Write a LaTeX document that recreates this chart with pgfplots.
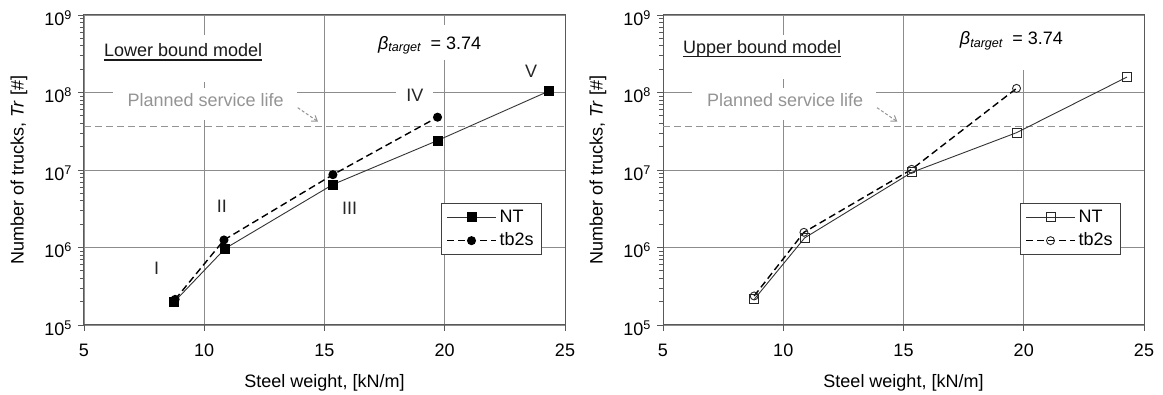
\documentclass[border=0pt]{standalone}
\usepackage{pgfplots}
\pgfplotsset{compat=1.18}
\usepackage{fontspec}
\setmainfont{Liberation Sans}
\usetikzlibrary{arrows.meta}
\definecolor{gridc}{gray}{0.55}
\definecolor{axc}{gray}{0.35}
\definecolor{psl}{gray}{0.58}
\newcommand{\bigf}{\fontsize{18}{21}\selectfont}
\pgfplotsset{
  myax/.style={
    width=481pt, height=310pt, scale only axis,
    xmin=5, xmax=25, ymin=1e5, ymax=1e9,
    xtick={5,10,15,20,25},
    ytick={1e5,1e6,1e7,1e8,1e9},
    yticklabels={10\textsuperscript{5},10\textsuperscript{6},10\textsuperscript{7},10\textsuperscript{8},10\textsuperscript{9}},
    /pgf/number format/assume math mode=true,
    grid=major, major grid style={gridc, line width=0.8pt},
    axis line style={axc, line width=1pt},
    tick style={axc, line width=0.8pt},
    tick align=outside, tick pos=left,
    major tick length=6pt, minor tick length=4pt,
    tick label style={font=\bigf},
    xticklabel style={yshift=-7pt},
    yticklabel style={yshift=-3pt},
    label style={font=\bigf},
    xlabel={Steel weight, [kN/m]},
    ylabel={Number of trucks, \textit{Tr} [\#]},
    xlabel style={at={(axis description cs:0.5,-0.187)}, anchor=center},
    ylabel style={at={(axis description cs:-0.135,0.5)}, anchor=center},
    legend cell align=left,
    legend style={at={(0.742,0.226)}, anchor=south west, draw=black!75, line width=0.8pt,
      fill=white, inner xsep=5pt, inner ysep=4pt, row sep=4pt, font=\bigf,
      nodes={inner xsep=3pt, inner ysep=2pt}},
    legend image code/.code={\draw[mark repeat=2,mark phase=2] plot coordinates {(0pt,0pt) (24.5pt,0pt) (49pt,0pt)};},
  }
}
\begin{document}
\bigf
\begin{tikzpicture}
\useasboundingbox (0,0) rectangle (1163pt,394pt);
% ---------------- left panel ----------------
\begin{axis}[ymode=log, myax, at={(84pt,69pt)}, anchor=south west]
  \fill[white] (rel axis cs:0.023,0.784) rectangle (rel axis cs:0.387,0.935);
  \fill[white] (rel axis cs:0.060,0.661) rectangle (rel axis cs:0.443,0.764);
  \fill[white] (rel axis cs:0.595,0.855) rectangle (rel axis cs:0.844,0.968);
  \node[fill=white, inner xsep=10pt, inner ysep=3pt, text=black!85] at (axis cs:18.76,9.3e7) {IV};
  \node[text=black!85] at (axis cs:8.02,5.4e5) {I};
  \node[text=black!85] at (axis cs:10.73,3.4e6) {II};
  \node[text=black!85] at (axis cs:16.04,3.2e6) {III};
  \node[text=black!85] at (axis cs:23.59,1.85e8) {V};
  \node[anchor=base, inner sep=0pt, text=black!90] (lb) at (rel axis cs:0.206,0.865) {Lower bound model};
  \draw[line width=1.7pt, black!90] ([yshift=-3pt]lb.base west) -- ([yshift=-3pt]lb.base east);
  \node[anchor=base, inner sep=0pt, text=psl] at (rel axis cs:0.253,0.705) {Planned service life};
  \draw[psl, line width=1pt, dash pattern=on 3pt off 2pt, -{Straight Barb[length=5pt,width=7pt]}] (rel axis cs:0.4443,0.701) -- (rel axis cs:0.4865,0.656);
  \node[anchor=base west, inner sep=0pt] at (rel axis cs:0.611,0.889) {\textit{β}\textsubscript{\textit{target}}\hspace{9pt}= 3.74};
  \addplot[psl, line width=1.2pt, dash pattern=on 7pt off 4pt, forget plot] coordinates {(5,3.6e7) (25,3.6e7)};
  \addplot[black!80, line width=0.9pt, mark=square*, mark size=4.5pt, mark options={solid, fill=black, draw=black}]
    coordinates {(8.76,2.0e5) (10.87,0.97e6) (15.35,6.5e6) (19.70,2.4e7) (24.35,1.05e8)};
  \addlegendentry{NT}
  \addplot[black, line width=1.4pt, dash pattern=on 7pt off 4pt, mark=*, mark size=3.8pt, mark options={solid, fill=black}]
    coordinates {(8.79,2.14e5) (10.82,1.25e6) (15.35,8.7e6) (19.70,4.8e7)};
  \addlegendentry{tb2s}
\end{axis}
% ---------------- right panel ----------------
\begin{axis}[ymode=log, myax, at={(663pt,69pt)}, anchor=south west]
  \fill[white] (rel axis cs:0.023,0.794) rectangle (rel axis cs:0.387,0.935);
  \fill[white] (rel axis cs:0.060,0.661) rectangle (rel axis cs:0.443,0.764);
  \fill[white] (rel axis cs:0.600,0.823) rectangle (rel axis cs:0.850,0.997);
  \node[anchor=base, inner sep=0pt, text=black!90] (ub) at (rel axis cs:0.206,0.876) {Upper bound model};
  \draw[line width=1.7pt, black!90] ([yshift=-3pt]ub.base west) -- ([yshift=-3pt]ub.base east);
  \node[anchor=base, inner sep=0pt, text=psl] at (rel axis cs:0.254,0.705) {Planned service life};
  \draw[psl, line width=1pt, dash pattern=on 3pt off 2pt, -{Straight Barb[length=5pt,width=7pt]}] (rel axis cs:0.4449,0.701) -- (rel axis cs:0.4871,0.656);
  \node[anchor=base west, inner sep=0pt] at (rel axis cs:0.617,0.905) {\textit{β}\textsubscript{\textit{target}}\hspace{9pt}= 3.74};
  \addplot[psl, line width=1.2pt, dash pattern=on 7pt off 4pt, forget plot] coordinates {(5,3.6e7) (25,3.6e7)};
  \addplot[black!80, line width=0.9pt, mark=square, mark size=4.5pt, mark options={solid, fill=white, draw=black!85}]
    coordinates {(8.79,2.14e5) (10.89,1.33e6) (15.34,9.3e6) (19.70,3.03e7) (24.29,1.58e8)};
  \addlegendentry{NT}
  \addplot[black, line width=1.4pt, dash pattern=on 7pt off 4pt, mark=o, mark size=4pt, mark options={solid, fill=white, draw=black!85, line width=0.9pt}]
    coordinates {(8.79,2.37e5) (10.86,1.57e6) (15.34,1.02e7) (19.70,1.13e8)};
  \addlegendentry{tb2s}
\end{axis}
\end{tikzpicture}
\end{document}
